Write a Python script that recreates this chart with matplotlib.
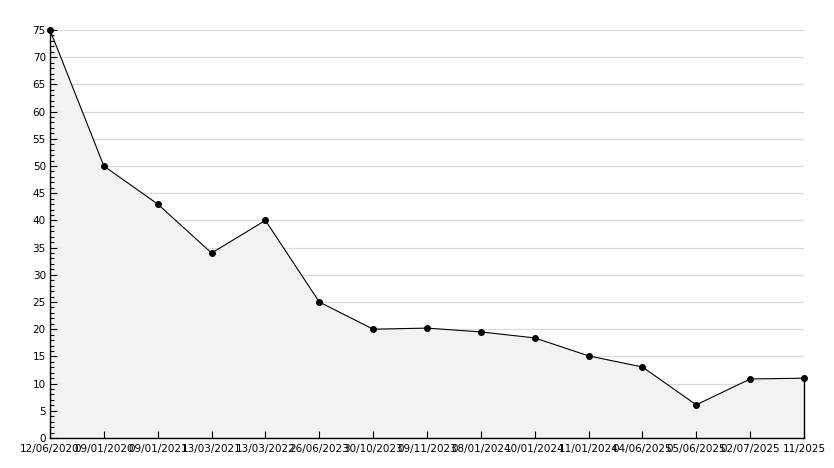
import matplotlib
matplotlib.use("Agg")
import matplotlib.pyplot as plt
from matplotlib.ticker import MultipleLocator

# === DADOS ===
datas = ["12/06/2020", "09/01/2020", "09/01/2021", "13/03/2021", "13/03/2022",
         "26/06/2023", "30/10/2023", "09/11/2023", "08/01/2024", "10/01/2024",
         "11/01/2024", "04/06/2025", "05/06/2025", "02/07/2025", "11/2025"]
valores = [75, 50, 43, 34, 40, 25, 20, 20.2, 19.5, 18.4, 15.1, 13.05, 6.1, 10.85, 11]

fig = plt.figure(figsize=(8.34, 4.68), dpi=100)
ax = fig.add_axes([50/834, 30/468, 754/834, 408/468])

x = list(range(len(valores)))

ax.set_xlim(0, len(valores) - 1)
ax.set_ylim(0, 75)
ax.yaxis.set_major_locator(MultipleLocator(5))
ax.yaxis.set_minor_locator(MultipleLocator(1))

# grade horizontal por baixo do preenchimento
for v in ax.get_yticks():
    if 0 < v <= 75:
        ax.axhline(v, color='#d9d9d9', linewidth=0.9, zorder=0)

# area preenchida
ax.fill_between(x, valores, 0, color='#f2f2f2', zorder=1, linewidth=0)
ax.plot([x[-1], x[-1]], [0, valores[-1]], color='black', linewidth=1.0,
        zorder=2, clip_on=False)
ax.plot(x, valores, color='black', linewidth=0.8, marker='o', markersize=4,
        markerfacecolor='black', markeredgecolor='black', zorder=3, clip_on=False)

ax.set_xticks(x)
ax.set_xticklabels(datas)

for s in ['top', 'right']:
    ax.spines[s].set_visible(False)
for s in ['left', 'bottom']:
    ax.spines[s].set_color('black')
    ax.spines[s].set_linewidth(1.0)
    ax.spines[s].set_zorder(4)

ax.tick_params(axis='both', which='major', direction='in', length=5, width=0.8,
               labelsize=7.5, colors='black', pad=3)
ax.tick_params(axis='y', which='minor', direction='in', length=3, width=0.8)
ax.tick_params(axis='x', which='major', length=5, pad=4)

fig.savefig("out.png", dpi=100, facecolor='white')
